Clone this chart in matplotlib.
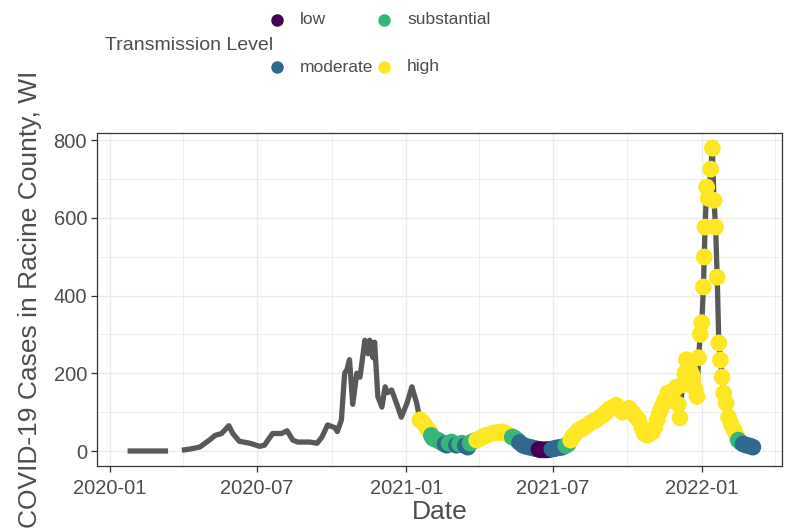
import matplotlib
matplotlib.use("Agg")
import matplotlib.pyplot as plt
import matplotlib.dates as mdates
from matplotlib.lines import Line2D
import numpy as np
import pandas as pd

# readings of daily cases, taken off the reference chart
dates = [
    "2020-01-23", "2020-03-13", "2020-03-21", "2020-03-30", "2020-04-09",
    "2020-04-21", "2020-05-03", "2020-05-10", "2020-05-18", "2020-05-27",
    "2020-06-01", "2020-06-09", "2020-06-22", "2020-07-04", "2020-07-10",
    "2020-07-20", "2020-07-31", "2020-08-07", "2020-08-14", "2020-08-20",
    "2020-09-04", "2020-09-13", "2020-09-19", "2020-09-26", "2020-10-05",
    "2020-10-08", "2020-10-13", "2020-10-17", "2020-10-20", "2020-10-23",
    "2020-10-27", "2020-11-01", "2020-11-05", "2020-11-11", "2020-11-15",
    "2020-11-17", "2020-11-21", "2020-11-23", "2020-11-27", "2020-12-02",
    "2020-12-06", "2020-12-09", "2020-12-14", "2020-12-20", "2020-12-26",
    "2021-01-02", "2021-01-08", "2021-01-14",
    # from here on the transmission level is known
    "2021-01-18", "2021-01-21", "2021-01-24", "2021-01-27", "2021-01-30",
    "2021-02-01", "2021-02-03", "2021-02-06", "2021-02-09", "2021-02-12",
    "2021-02-15", "2021-02-18", "2021-02-20", "2021-02-23", "2021-02-26",
    "2021-03-01", "2021-03-04", "2021-03-08", "2021-03-11", "2021-03-15",
    "2021-03-18", "2021-03-21", "2021-03-23", "2021-03-26", "2021-03-29",
    "2021-04-02", "2021-04-05", "2021-04-09", "2021-04-13", "2021-04-18",
    "2021-04-22", "2021-04-26", "2021-04-30", "2021-05-04", "2021-05-09",
    "2021-05-12", "2021-05-15", "2021-05-18", "2021-05-21", "2021-05-25",
    "2021-05-29", "2021-06-02", "2021-06-06", "2021-06-10", "2021-06-14",
    "2021-06-17", "2021-06-21", "2021-06-24", "2021-06-27", "2021-06-30",
    "2021-07-03", "2021-07-06", "2021-07-10", "2021-07-13", "2021-07-17",
    "2021-07-20", "2021-07-23", "2021-07-26", "2021-07-29", "2021-08-01",
    "2021-08-04", "2021-08-08", "2021-08-12", "2021-08-16", "2021-08-20",
    "2021-08-24", "2021-08-28", "2021-09-01", "2021-09-05", "2021-09-09",
    "2021-09-13", "2021-09-17", "2021-09-21", "2021-09-25", "2021-09-29",
    "2021-10-03", "2021-10-07", "2021-10-11", "2021-10-15", "2021-10-19",
    "2021-10-22", "2021-10-25", "2021-10-29", "2021-11-01", "2021-11-04",
    "2021-11-07", "2021-11-10", "2021-11-13", "2021-11-16", "2021-11-20",
    "2021-11-24", "2021-11-28", "2021-12-01", "2021-12-03", "2021-12-05",
    "2021-12-08", "2021-12-11", "2021-12-13", "2021-12-15", "2021-12-17",
    "2021-12-19", "2021-12-21", "2021-12-24", "2021-12-26", "2021-12-28",
    "2021-12-30", "2022-01-01", "2022-01-03", "2022-01-04", "2022-01-05",
    "2022-01-07", "2022-01-09", "2022-01-12", "2022-01-14", "2022-01-16",
    "2022-01-18", "2022-01-20", "2022-01-22", "2022-01-24", "2022-01-26",
    "2022-01-28", "2022-01-31", "2022-02-03", "2022-02-06", "2022-02-10",
    "2022-02-13", "2022-02-15", "2022-02-18", "2022-02-21", "2022-02-25",
    "2022-03-01", "2022-03-05",
]
cases = [
    0, 0, np.nan, 2, 5,
    10, 28, 40, 45, 65,
    45, 25, 20, 12, 15,
    45, 45, 52, 28, 23,
    23, 20, 36, 67, 60,
    50, 80, 200, 210, 235,
    120, 200, 190, 285, 250,
    285, 240, 280, 140, 113,
    165, 150, 157, 123, 87,
    123, 165, 123,
    80, 75, 67, 58, 50,
    40, 33, 30, 28, 24,
    20, 18, 15, 20, 23,
    18, 15, 18, 20, 14,
    10, 20, 23, 26, 28,
    32, 36, 40, 42, 46,
    47, 48, 49, 45, 40,
    36, 33, 28, 22, 15,
    12, 10, 8, 6, 4,
    3, 3, 3, 4, 5,
    6, 8, 9, 10, 14,
    18, 28, 38, 45, 52,
    56, 60, 65, 72, 76,
    80, 87, 92, 100, 108,
    112, 118, 110, 100, 105,
    110, 100, 90, 80, 60,
    45, 41, 45, 49, 60,
    80, 100, 115, 130, 149,
    152, 157, 165, 120, 85,
    170, 200, 235, 225, 210,
    200, 190, 160, 140, 240,
    300, 330, 422, 499, 576,
    679, 650, 725, 779, 645,
    576, 447, 278, 234, 190,
    149, 123, 87, 70, 54,
    38, 28, 22, 18, 15,
    13, 10,
]
levels = [None] * 48 + [
    "high", "high", "high", "high", "high",
    "substantial", "substantial", "substantial", "substantial", "substantial",
    "substantial", "moderate", "moderate", "substantial", "substantial",
    "substantial", "moderate", "substantial", "substantial", "moderate",
    "moderate", "substantial", "substantial", "substantial", "high",
    "high", "high", "high", "high", "high",
    "high", "high", "high", "high", "high",
    "substantial", "substantial", "substantial", "moderate", "moderate",
    "moderate", "moderate", "moderate", "moderate", "low",
    "low", "low", "low", "low", "moderate",
    "moderate", "moderate", "moderate", "moderate", "substantial",
    "substantial", "high", "high", "high", "high",
] + ["high"] * 66 + [
    "substantial", "substantial", "moderate", "moderate",
    "moderate", "moderate",
]

level_names = ["low", "moderate", "substantial", "high"]
level_colors = {"low": "#440154", "moderate": "#31688E",
                "substantial": "#35B779", "high": "#FDE725"}

df = pd.DataFrame({"date": pd.to_datetime(dates), "cases": cases, "level": levels})

plt.rcParams["font.family"] = ["Liberation Sans", "DejaVu Sans"]
text_col = "#4D4D4D"

fig = plt.figure(figsize=(8, 5.31), dpi=100)
ax = fig.add_axes([0.121, 0.1224, 0.8565, 0.6271])

ax.plot(df["date"], df["cases"], color="#595959", linewidth=3.8,
        solid_capstyle="butt", zorder=2)
pts = df[df["level"].notna()]
ax.scatter(pts["date"], pts["cases"], c=[level_colors[l] for l in pts["level"]],
           s=145, linewidths=0, zorder=3)

ax.set_xlim(pd.Timestamp("2019-12-16"), pd.Timestamp("2022-04-10"))
ax.set_ylim(-38.6, 818)
ax.set_yticks([0, 200, 400, 600, 800])
ax.set_yticks([100, 300, 500, 700], minor=True)
ax.xaxis.set_major_locator(mdates.MonthLocator(bymonth=[1, 7]))
ax.xaxis.set_major_formatter(mdates.DateFormatter("%Y-%m"))
ax.xaxis.set_minor_locator(mdates.MonthLocator(bymonth=[4, 10]))

ax.grid(True, which="major", color="#EBEBEB", linewidth=1.0, zorder=0)
ax.grid(True, which="minor", color="#EBEBEB", linewidth=0.6, zorder=0)
ax.set_axisbelow(True)
for s in ax.spines.values():
    s.set_color("#333333")
    s.set_linewidth(0.9)
ax.tick_params(which="major", length=4, width=0.9, color="#333333",
               labelsize=14.5, labelcolor=text_col, pad=3)
ax.tick_params(axis="x", which="major", pad=5)
ax.tick_params(which="minor", length=0)

ax.set_xlabel("Date", fontsize=19, color=text_col, labelpad=2)
ax.set_ylabel("COVID-19 Cases in Racine County, WI", fontsize=19,
              color=text_col, labelpad=8)

# legend: title on the left, keys in two columns
W, H = 800, 531
fig.text(105 / W, 1 - 45 / H, "Transmission Level", fontsize=14,
         color=text_col, va="center", ha="left")
key_x = [277, 277, 384, 384]
key_y = [20, 67, 20, 67]
for name, kx, ky in zip(level_names, key_x, key_y):
    fig.add_artist(Line2D([kx / W], [1 - ky / H], transform=fig.transFigure,
                          marker="o", markersize=9, linestyle="",
                          markerfacecolor=level_colors[name], markeredgewidth=0))
    fig.text((kx + 23) / W, 1 - ky / H, name, fontsize=12.5, color=text_col,
             va="center", ha="left")

fig.savefig("out.png", dpi=100)
